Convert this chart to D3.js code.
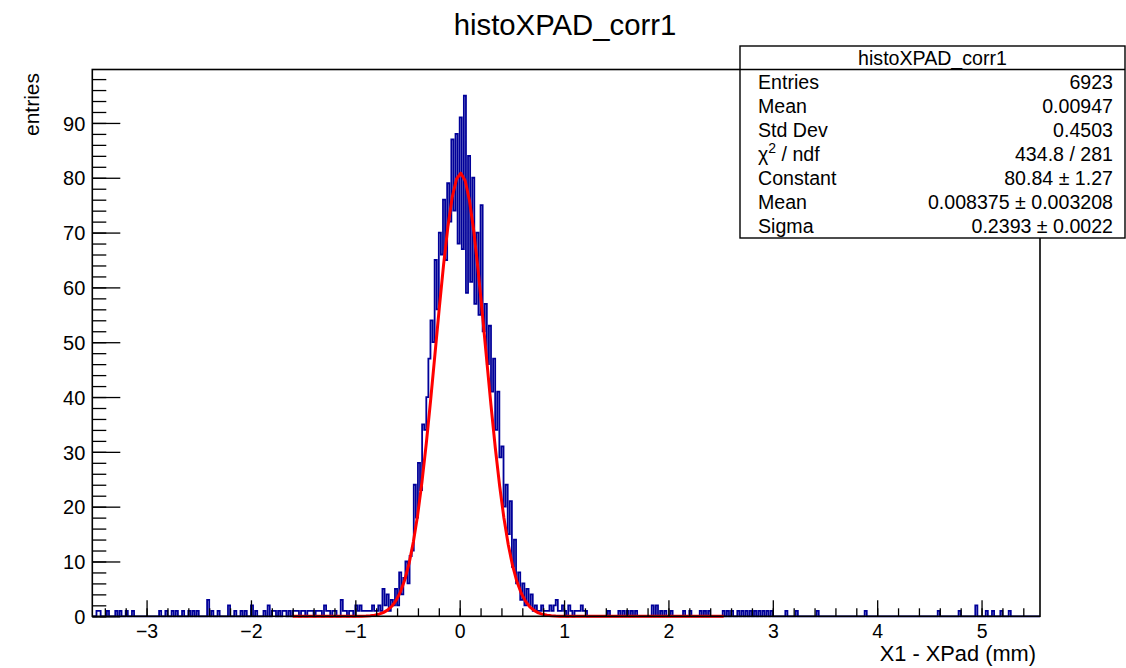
<!DOCTYPE html>
<html>
<head>
<meta charset="utf-8">
<script src="https://cdn.jsdelivr.net/npm/d3@7"></script>
<style>
  html, body { margin: 0; padding: 0; background: #fff; }
  svg { display: block; }
  text { font-family: "Liberation Sans", Arial, Helvetica, sans-serif; fill: #000; }
</style>
</head>
<body>
<svg id="chart" width="1126" height="668"></svg>
<script>
// ---------------- data ----------------
const histTitle = "histoXPAD_corr1";
const xTitle = "X1 - XPad (mm)";
const yTitle = "entries";
const xDomain = [-3.52, 5.56];
const yDomain = [0, 99.75];
const binWidth = 0.02;

// dense central region: counts of consecutive 0.02-wide bins starting at coreStart
const coreStart = -0.90;
const coreCounts = [
  1, 1, 1, 2, 1, 1, 2, 1, 5, 2,      // -0.90 .. -0.72
  4, 1, 3, 2, 5, 2, 8, 4, 7, 10,     // -0.70 .. -0.52
  6, 11, 12, 24, 18, 28, 23, 35, 34, 40, // -0.50 .. -0.32
  47, 54, 50, 65, 56, 70, 66, 76, 65, 79, // -0.30 .. -0.12
  72, 87, 74, 88, 68, 91, 67, 95, 59, 84, // -0.10 .. 0.08
  61, 80, 57, 70, 55, 75, 52, 57, 46, 53, // 0.10 .. 0.28
  41, 47, 34, 41, 29, 31, 20, 24, 15, 21, // 0.30 .. 0.48
  9, 14, 6, 8, 3, 6, 2, 5, 2, 4,          // 0.50 .. 0.68
  1, 2, 1, 1, 2, 1, 1, 1, 2, 1            // 0.70 .. 0.88
];

// sparse tails: [bin low edge, count]
const tailBins = [
  [-3.48,1],[-3.46,1],[-3.38,1],[-3.30,1],[-3.26,1],[-3.20,1],[-3.14,1],
  [-2.88,1],[-2.82,1],[-2.76,1],[-2.72,1],[-2.66,1],[-2.60,1],[-2.56,1],[-2.52,1],
  [-2.42,3],[-2.38,1],[-2.32,1],[-2.22,2],[-2.16,1],[-2.10,1],[-2.06,1],[-2.00,2],[-1.96,1],
  [-1.88,1],[-1.84,2],[-1.80,1],[-1.78,1],[-1.74,1],[-1.70,1],[-1.68,1],[-1.64,1],
  [-1.60,1],[-1.58,1],[-1.56,1],[-1.52,1],[-1.50,1],[-1.46,1],[-1.44,1],
  [-1.42,1],[-1.38,1],[-1.36,1],[-1.34,1],[-1.30,2],[-1.28,1],[-1.26,1],[-1.22,1],
  [-1.20,1],[-1.14,3],[-1.12,1],[-1.10,1],[-1.06,1],
  [-1.04,1],[-1.00,2],[-0.98,1],[-0.96,2],[-0.94,1],[-0.92,1],
  [0.90,2],[0.92,3],[0.94,1],[0.96,1],[0.98,2],[1.00,1],[1.04,2],[1.06,1],[1.10,1],
  [1.12,1],[1.14,1],[1.16,2],[1.18,1],[1.20,1],
  [1.42,1],[1.52,1],[1.56,1],[1.60,1],[1.64,1],[1.68,1],[1.84,2],[1.88,2],[1.92,1],
  [1.96,1],[2.02,1],[2.14,1],[2.20,1],[2.30,1],[2.34,1],[2.38,1],[2.52,1],[2.56,1],
  [2.60,1],[2.66,1],[2.70,1],[2.74,1],[2.78,1],[2.82,1],[2.86,1],[2.90,1],[2.94,1],
  [2.98,1],[3.12,1],[3.22,1],[3.42,1],[3.88,1],[4.58,1],[4.78,1],[4.94,2],[5.04,1],
  [5.10,1],[5.18,1],[5.26,1]
];

// fit (gaus) parameters as printed in the stats box
const fitConstant = 80.84;
const fitMean = 0.008375;
const fitSigma = 0.2393;
const fitRange = [-1.60, 2.53];

// ticks
const xMajorTicks = [-3, -2, -1, 0, 1, 2, 3, 4, 5];
const yMajorTicks = [0, 10, 20, 30, 40, 50, 60, 70, 80, 90];

// stats box
const statsLabels = ["Entries", "Mean", "Std Dev", "CHI2", "Constant", "Mean", "Sigma"];
const statsValues = ["6923", "0.00947", "0.4503", "434.8 / 281", "80.84 \u00b1 1.27",
                     "0.008375 \u00b1 0.003208", "0.2393 \u00b1 0.0022"];

// ---------------- drawing ----------------
const svg = d3.select("#chart");
const frame = {left: 92.3, right: 1040, top: 69.5, bottom: 616.3};

const x = d3.scaleLinear().domain(xDomain).range([frame.left, frame.right]);
const y = d3.scaleLinear().domain(yDomain).range([frame.bottom, frame.top]);

// build histogram bins
const nBins = Math.round((xDomain[1] - xDomain[0]) / binWidth);
const counts = new Array(nBins).fill(0);
coreCounts.forEach((c, i) => {
  const idx = Math.round((coreStart + i * binWidth - xDomain[0]) / binWidth);
  if (idx >= 0 && idx < nBins) counts[idx] = c;
});
tailBins.forEach(([lo, c]) => {
  const idx = Math.round((lo - xDomain[0]) / binWidth);
  if (idx >= 0 && idx < nBins) counts[idx] = c;
});
const stepPts = [[xDomain[0], 0]];
counts.forEach((c, i) => stepPts.push([xDomain[0] + i * binWidth, c]));
stepPts.push([xDomain[1], counts[nBins - 1]]);

const plot = svg.append("g");
plot.append("path")
  .datum(stepPts)
  .attr("fill", "none")
  .attr("stroke", "#000099")
  .attr("stroke-width", 1.8)
  .attr("d", d3.line().x(d => x(d[0])).y(d => y(d[1])).curve(d3.curveStepAfter));

// fit curve (100 segments as drawn by ROOT)
const fitPts = d3.range(0, 101).map(i => {
  const xv = fitRange[0] + (fitRange[1] - fitRange[0]) * i / 100;
  const z = (xv - fitMean) / fitSigma;
  return [xv, fitConstant * Math.exp(-0.5 * z * z)];
});
plot.append("path")
  .datum(fitPts)
  .attr("fill", "none")
  .attr("stroke", "#ff0000")
  .attr("stroke-width", 3)
  .attr("stroke-linejoin", "round")
  .attr("d", d3.line().x(d => x(d[0])).y(d => y(d[1])));

// axes
const fmtX = d => (d < 0 ? "\u2212" + Math.abs(d) : String(d));
const xMinor = d3.range(-3.4, 5.41, 0.2).map(v => Math.round(v * 10) / 10);
const yMinor = d3.range(0, 99, 2);

const gxMinor = svg.append("g").attr("transform", `translate(0,${frame.bottom})`)
  .call(d3.axisBottom(x).tickValues(xMinor).tickSize(-8).tickFormat(""));
const gx = svg.append("g").attr("transform", `translate(0,${frame.bottom})`)
  .call(d3.axisBottom(x).tickValues(xMajorTicks).tickSize(-16).tickFormat(fmtX));
gx.selectAll("text").attr("y", 22).attr("dy", null)
  .style("font-size", "19.5px").style("font-family", '"Liberation Sans", Arial, sans-serif');

const gyMinor = svg.append("g").attr("transform", `translate(${frame.left},0)`)
  .call(d3.axisLeft(y).tickValues(yMinor).tickSize(-14).tickFormat(""));
const gy = svg.append("g").attr("transform", `translate(${frame.left},0)`)
  .call(d3.axisLeft(y).tickValues(yMajorTicks).tickSize(-28).tickFormat(d3.format("d")));
gy.selectAll("text").attr("x", -7).attr("dy", "0.36em")
  .style("font-size", "20px").style("font-family", '"Liberation Sans", Arial, sans-serif');

[gxMinor, gx, gyMinor, gy].forEach(g => {
  g.select(".domain").remove();
  g.selectAll("line").attr("stroke", "#000").attr("stroke-width", 1.3);
});

// frame
svg.append("rect")
  .attr("x", frame.left).attr("y", frame.top)
  .attr("width", frame.right - frame.left).attr("height", frame.bottom - frame.top)
  .attr("fill", "none").attr("stroke", "#000").attr("stroke-width", 1.6);

// titles
svg.append("text").attr("x", 565).attr("y", 35).attr("text-anchor", "middle")
  .style("font-size", "29.3px").text(histTitle);
svg.append("text").attr("x", 1036).attr("y", 661).attr("text-anchor", "end")
  .style("font-size", "21.8px").text(xTitle);
svg.append("text").attr("transform", "translate(39,73) rotate(-90)")
  .attr("text-anchor", "end").style("font-size", "21px").text(yTitle);

// stats box
const box = {left: 740, right: 1125, top: 46, bottom: 238, header: 69.5};
const statFont = "19.6px";
const sb = svg.append("g");
sb.append("rect").attr("x", box.left).attr("y", box.top)
  .attr("width", box.right - box.left).attr("height", box.bottom - box.top)
  .attr("fill", "#fff").attr("stroke", "#000").attr("stroke-width", 1.4);
sb.append("line").attr("x1", box.left).attr("x2", box.right)
  .attr("y1", box.header).attr("y2", box.header)
  .attr("stroke", "#000").attr("stroke-width", 1.4);
sb.append("text").attr("x", (box.left + box.right) / 2).attr("y", 65)
  .attr("text-anchor", "middle").style("font-size", statFont).text(histTitle);
const rowH = (box.bottom - box.header) / statsLabels.length;
statsLabels.forEach((lab, i) => {
  const base = box.header + rowH * (i + 0.5) + 7.5;
  const t = sb.append("text").attr("x", 758).attr("y", base).style("font-size", statFont);
  if (lab === "CHI2") {
    t.append("tspan").text("\u03c7");
    t.append("tspan").attr("dy", -8).style("font-size", "14px").text("2");
    t.append("tspan").attr("dy", 8).text(" / ndf");
  } else {
    t.text(lab);
  }
  sb.append("text").attr("x", 1113).attr("y", base).attr("text-anchor", "end")
    .style("font-size", statFont).text(statsValues[i]);
});
</script>
</body>
</html>
